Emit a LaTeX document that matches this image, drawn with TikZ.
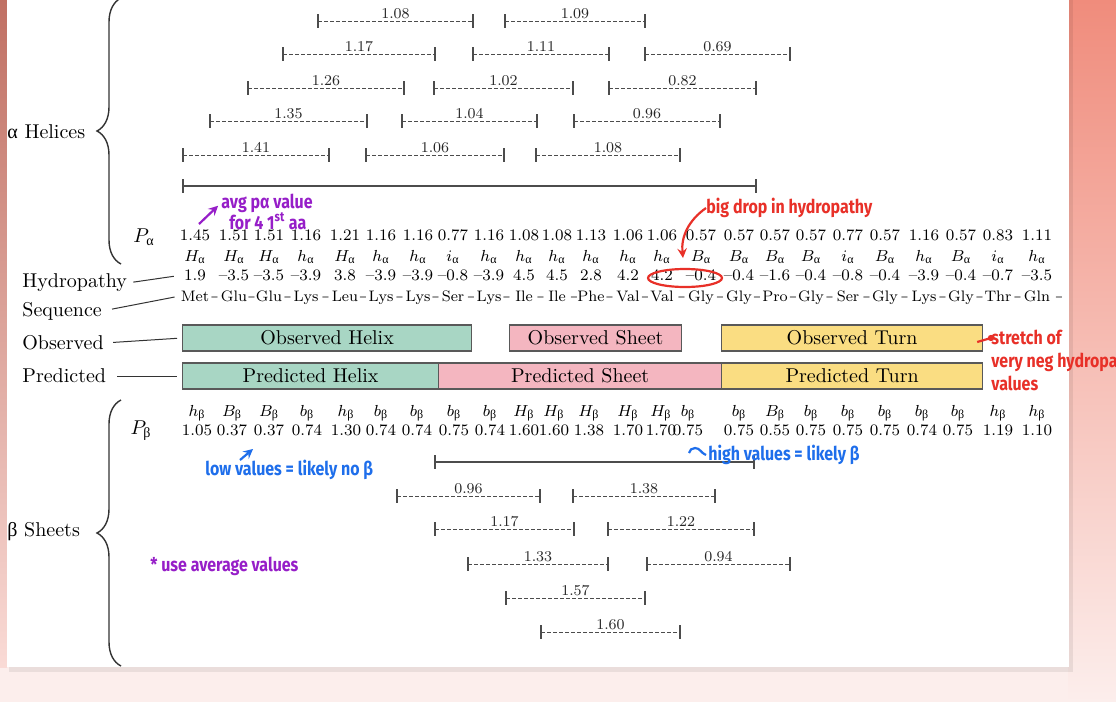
\documentclass[tikz,border=0pt]{standalone}
\usepackage{amsmath}
\usepackage{fontspec}
\usetikzlibrary{decorations.pathreplacing}
\newfontfamily\grk{Liberation Serif}
\newfontfamily\hand{Fira Sans}
\newcommand{\ua}{\text{\grk α}}
\newcommand{\ub}{\text{\grk β}}
\newcommand{\pen}[1]{\scalebox{0.84}[1]{#1}}
\definecolor{helixc}{RGB}{168,214,196}
\definecolor{sheetc}{RGB}{244,182,192}
\definecolor{turnc}{RGB}{250,221,130}
\definecolor{penred}{RGB}{232,48,40}
\definecolor{penblue}{RGB}{30,110,235}
\definecolor{penpurple}{RGB}{150,30,200}
\definecolor{bgpink}{RGB}{252,238,236}
\definecolor{salmon}{RGB}{240,140,124}
\tikzset{
  x=0.5pt, y=-0.5pt,
  val/.style={font=\fontsize{8}{9}\selectfont, inner sep=0pt, anchor=base},
  res/.style={font=\fontsize{7.6}{9}\selectfont, inner sep=0pt, anchor=base},
  side/.style={font=\fontsize{10}{12}\selectfont, inner sep=0pt, anchor=west},
  seg/.style={draw=black!65, line width=0.6pt, minimum height=13pt, inner sep=0pt, anchor=west, font=\fontsize{10}{12}\selectfont},
  win/.style={gray!60!black, line width=0.5pt, dash pattern=on 2pt off 1pt},
  bar/.style={gray!60!black, line width=0.8pt},
  ends/.style={gray!60!black, line width=0.6pt},
  wlab/.style={font=\fontsize{7.5}{8}\selectfont, text=black!85, inner sep=1pt, anchor=south},
  brc/.style={decorate, decoration={brace, amplitude=12pt}, line width=0.7pt, black!80},
  link/.style={black!80, line width=0.5pt},
  note/.style={font=\hand\bfseries\fontsize{9.5}{11.5}\selectfont, inner sep=0pt, anchor=west},
}
\newcommand{\window}[4]{%
  \draw[win] (#1,#3) -- (#2,#3) node[wlab, midway] {#4};
  \draw[ends] (#1,#3-7) -- (#1,#3+7) (#2,#3-7) -- (#2,#3+7);
}
\begin{document}
\begin{tikzpicture}
  \useasboundingbox (0,0) rectangle (1116,702);
  \fill[bgpink] (0,0) rectangle (1116,702);
  \shade[top color=salmon, bottom color=bgpink] (1068,0) rectangle (1116,702);
  \shade[top color=salmon!80!black, bottom color=bgpink!80!salmon] (0,0) rectangle (7,667);
  \fill[black, opacity=0.07] (9,0) rectangle (1073,672);
  \fill[white] (7,0) rectangle (1069,667);

  % side labels
  \node[side] (lhel) at (7,132) {{\grk α} Helices};
  \node[side] (lsht) at (7,532) {{\grk β} Sheets};
  \node[side] (lhyd) at (22,283) {Hydropathy};
  \node[side] (lseq) at (22,311) {Sequence};
  \node[side] (lobs) at (22,343) {Observed};
  \node[side] (lpre) at (22,376) {Predicted};
  \draw[brc] (121,264) -- (121,-2);
  \draw[brc] (121,666) -- (121,400);
  \node[font=\fontsize{10}{12}\selectfont] (pa) at (144,237) {$P_{\ua}$};
  \node[font=\fontsize{10}{12}\selectfont] (pb) at (141,431) {$P_{\ub}$};

  % helix windows
  \foreach \a/\b/\y/\w in {318/473/21/1.08, 505/645/21/1.09,
      283/435/54/1.17, 473/609/54/1.11, 645/790/54/0.69,
      248/404/88/1.26, 434/573/88/1.02, 609/756/88/0.82,
      210/367/121/1.35, 402/537/121/1.04, 574/720/121/0.96,
      183/329/155/1.41, 366/504/155/1.06, 536/680/155/1.08}
    \window{\a}{\b}{\y}{\w};
  \draw[bar] (183,186) -- (756,186);
  \draw[ends] (183,179) -- (183,193) (756,179) -- (756,193);

  % rows
  \coordinate (rowha) at (0,261);
  \coordinate (rowhy) at (0,280);
  \coordinate (rowsq) at (0,301);
  \coordinate (rowhb) at (0,416);
  \foreach \x/\w [count=\i] in {195/1.45, 234/1.51, 269/1.51, 306/1.16, 345/1.21, 381/1.16, 418/1.16, 453/0.77,
      489/1.16, 524/1.08, 557/1.08, 591/1.13, 628/1.06, 662/1.06, 701/0.57, 739/0.57,
      775/0.57, 811/0.57, 848/0.77, 885/0.57, 924/1.16, 961/0.57, 998/0.83, 1037/1.11}
    \node[val] (pa\i) at (\x,240) {\w};
  \foreach \w [count=\i] in {H,H,H,h,H,h,h,i,h,h,h,h,h,h,B,B,B,B,i,B,h,B,i,h}
    \node[val] (ha\i) at (pa\i.base |- rowha) {$\w_{\ua}$};
  \foreach \w [count=\i] in {1.9,--3.5,--3.5,--3.9,3.8,--3.9,--3.9,--0.8,--3.9,4.5,4.5,2.8,
      4.2,4.2,--0.4,--0.4,--1.6,--0.4,--0.8,--0.4,--3.9,--0.4,--0.7,--3.5}
    \node[val] (hv\i) at (pa\i.base |- rowhy) {\w};
  \foreach \w [count=\i] in {Met,Glu,Glu,Lys,Leu,Lys,Lys,Ser,Lys,Ile,Ile,Phe,
      Val,Val,Gly,Gly,Pro,Gly,Ser,Gly,Lys,Gly,Thr,Gln}
    \node[res] (sq\i) at (pa\i.base |- rowsq) {\w};
  \foreach \i [evaluate=\i as \j using int(\i+1)] in {1,...,23}
    \path (sq\i.base) -- (sq\j.base) node[res, midway] {\scalebox{0.6}[1]{$-$}};
  \path (sq24.base) -- ++(22,0) node[res, pos=1] {\scalebox{0.6}[1]{$-$}};

  % observed / predicted
  \foreach \n/\a/\b/\y/\c/\t in {oh/182/471/338/helixc/Observed Helix, os/509/681/338/sheetc/Observed Sheet,
      ot/721/982/338/turnc/Observed Turn, ph/182/438/376/helixc/Predicted Helix,
      ps/438/721/376/sheetc/Predicted Sheet, pt/721/982/376/turnc/Predicted Turn}
    \node[seg, fill=\c, minimum width={(\b-\a)*0.5pt}] (\n) at (\a,\y) {\t};
  \draw[link, shorten <=3pt, shorten >=5pt] (lhyd.east) -- (hv1.west);
  \draw[link, shorten <=5pt, shorten >=3pt] (lseq.east) -- (sq1.west);
  \draw[link, shorten <=4.5pt, shorten >=2.5pt] (lobs.east) -- (oh.west);
  \draw[link, shorten <=5.5pt, shorten >=2.5pt] (lpre.east) -- (ph.west);

  % beta rows
  \foreach \x/\w [count=\i] in {197/1.05, 232/0.37, 269/0.37, 307/0.74, 346/1.30, 381/0.74, 417/0.74, 454/0.75,
      490/0.74, 524/1.60, 554/1.60, 589/1.38, 628/1.70, 661/1.70, 688/0.75, 739/0.75,
      775/0.55, 811/0.75, 848/0.75, 885/0.75, 922/0.74, 958/0.75, 998/1.19, 1037/1.10}
    \node[val] (pb\i) at (\x,435) {\w};
  \foreach \w [count=\i] in {h,B,B,b,h,b,b,b,b,H,H,H,H,H,b,b,B,b,b,b,b,b,h,h}
    \node[val] (hb\i) at (pb\i.base |- rowhb) {$\w_{\ub}$};

  % sheet windows
  \draw[bar] (435,462) -- (754,462);
  \draw[ends] (435,455) -- (435,469) (754,455) -- (754,469);
  \foreach \a/\b/\y/\w in {397/540/496/0.96, 573/715/496/1.38,
      435/574/529/1.17, 608/754/529/1.22,
      468/608/564/1.33, 647/790/564/0.94,
      506/645/598/1.57, 541/680/632/1.60}
    \window{\a}{\b}{\y}{\w};

  % pen notes
  \node[note, penpurple] (n1) at (221,203) {\pen{avg pα value}};
  \node[note, penpurple] (n2) at (229,221) {\pen{for 4 1\textsuperscript{st} aa}};
  \coordinate (a1) at (199,224);
  \draw[penpurple, line width=1.1pt, ->, >=stealth, shorten >=2pt] (a1) -- (n1.west);
  \node[note, penred] (n3) at (706,208) {\pen{big drop in hydropathy}};
  \coordinate (a3) at (683,258);
  \draw[penred, line width=1.1pt, ->, >=stealth] (n3.west) to[bend right=30] (a3);
  \draw[penred, line width=1.1pt] (685,278) ellipse [x radius=37, y radius=9];
  \node[note, penred, align=left] (n4) at (991,360) {\pen{stretch of}\\\pen{very neg hydropa}\\\pen{values}};
  \coordinate (a4) at (991,338);
  \draw[penred, line width=1.1pt] (ot.east) ++(-6,4) -- (a4);
  \fill[penred] (a4) circle (1.6pt);
  \node[note, penblue] (n5) at (205,470) {\pen{low values = likely no β}};
  \coordinate (a5) at (240,460);
  \draw[penblue, line width=1.1pt, ->, >=stealth] (a5) -- ++(13,-11);
  \node[note, penblue] (n6) at (708,455) {\pen{high values = likely β}};
  \draw[penblue, line width=1.1pt] (n6.west) ++(-19,-2) to[out=80, in=180] ++(6,-5) to[out=0, in=160] ++(11,7);
  \node[note, penpurple] (n7) at (150,566) {\pen{* use average values}};
\end{tikzpicture}
\end{document}
